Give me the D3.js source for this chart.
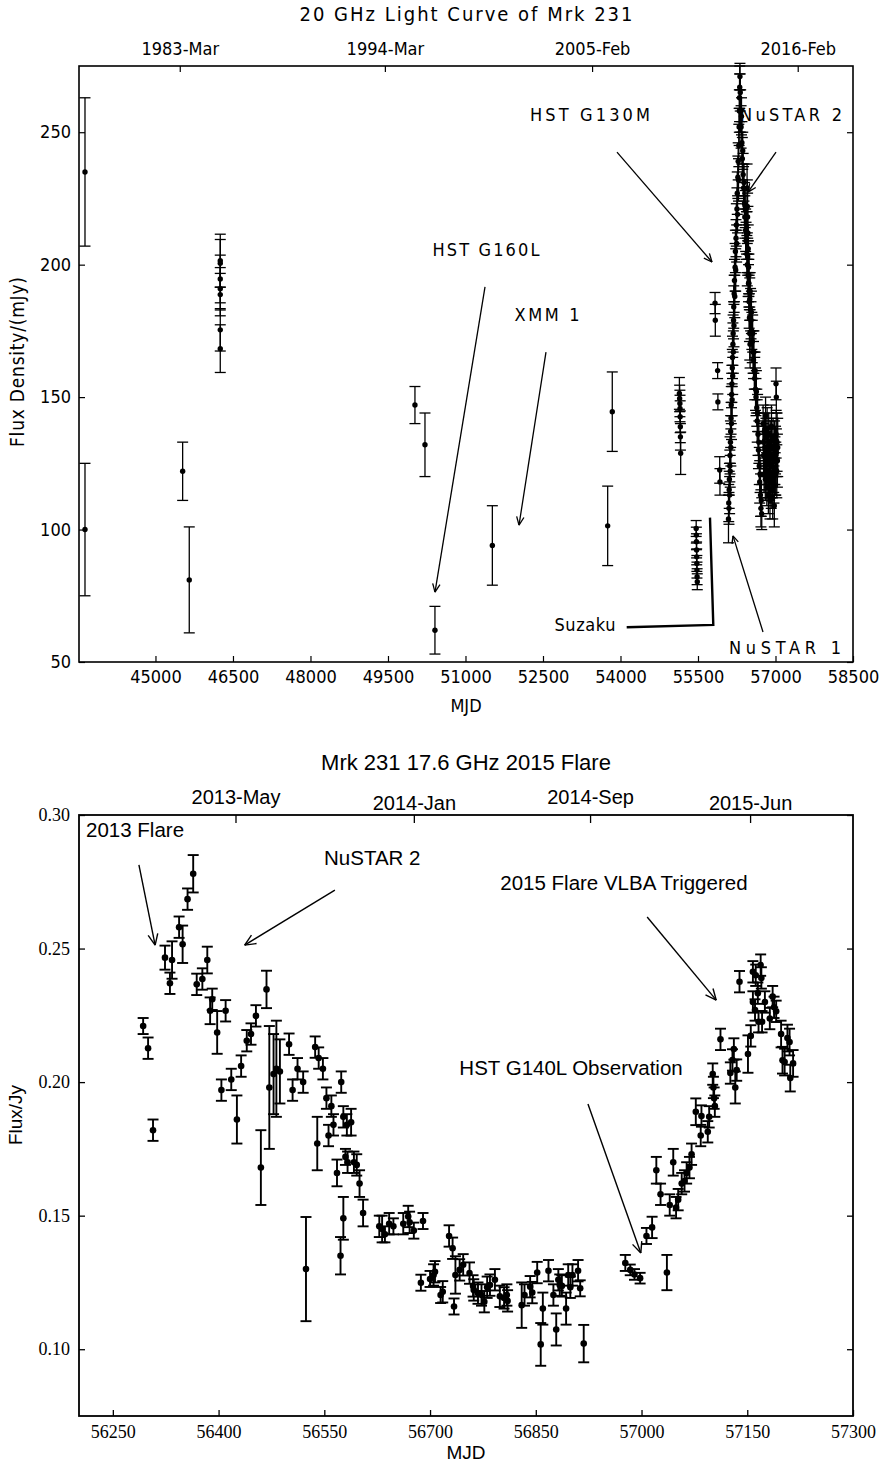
<!DOCTYPE html>
<html><head><meta charset="utf-8">
<script src="https://cdn.jsdelivr.net/npm/d3@7"></script>
<style>
body{margin:0;background:#fff;}
svg{display:block;}
</style></head>
<body><svg id="c" width="884" height="1465"></svg>
<script>
// ---------------- Panel 1 data (20 GHz) ----------------
const mjd1 = [43636,43636,45526,45654,
 46254,46254,46254,46254,46254,46254,46254,
 50022,50216,50409,51520,53752,53841,
 55140,55145,55150,55152,55155,55158,55160,55165,
 55465,55468,55470,55473,55475,55478,55480,55483,55486,
 55830,55835,55880,55885,55920,55925,
 // rising part of the 2013 flare
 56090,56095,56100,56104,56108,56112,56116,56120,56124,56128,56132,56136,56140,56144,56148,56152,56156,56160,56164,56168,56172,56176,56180,56184,56188,56192,56196,56200,56206,56212,56218,56224,56230,56236,56242,56248,56254,56260,56266,56272,56278,56284,56290,56296,56300,56304,56308,56312,
 // decay
 56318,56326,56334,56342,56350,56358,56366,56374,56382,56390,56398,56406,56414,56422,56430,56438,56446,56454,56462,56470,56478,56486,56494,56502,56510,56518,56526,56534,56542,56550,56558,56566,56574,56582,56590,56598,56606,56614,56622,56630,56638,56646,56654,56662,56670,56678,56686,56694,56702,56710,56718,56726,56734,
 56450,56455,56460,56466,56472,56478,56484,56490,56496,56502,56508,
 // late cluster
 56760,56766,56771,56779,56784,56791,56796,56803,56808,56815,56820,56827,56832,56838,56845,56850,56857,56862,56869,56874,56881,56886,56893,56898,56905,56910,56917,56922,56929,56934,56941,56946,56953,56958,56965,56970,56977,56982,56989,56994,57001,57006,57013,57018,57025,57031,57037,57043,57010,57016];
const flux1 = [235,100,122,81,
 201.5,200.5,194.6,190.9,188.7,175.4,168.3,
 147,132,62,94,101.4,144.5,
 151.4,149.5,147.6,145.7,142.6,138.8,135,128.8,
 100.4,97.9,95.4,92.3,89.7,87.2,84.7,82.2,80.3,
 185.5,179,160,148.2,122.5,118,
 104,110,108,115,119,113,124,128,122,133,137,131,142,147,140,151,155,149,161,165,158,170,174,167,179,184,177,189,194,188,199,205,198,210,215,208,221,227,219,233,239,232,245,252,258,263,267,271,
 265,258,252,256,246,240,243,234,229,231,223,218,221,213,209,212,204,200,203,196,193,196,190,187,190,183,179,182,175,171,174,167,164,167,160,157,160,153,150,152,146,141,144,136,130,133,124,118,121,113,108,111,106,
 229,222,218,212,206,199,193,186,180,174,170,
 140,133,128,121,137,131,124,119,143,135,129,122,116,138,131,127,120,113,136,129,125,118,111,133,128,120,115,139,131,124,119,112,135,127,122,117,109,134,126,121,130,123,136,129,122,133,126,131,155,150];
const err1 = [28,25,11,20,
 10,9,9,8,8,8,9,
 7,12,9,15,15,15,
 6,5,5,5,6,6,5,8,
 3,3,3,3,3,3,3,3,3,
 4,6,3,3,5,5,
 9,7,6,7,6,7,6,7,6,8,6,7,6,7,6,8,7,6,7,8,7,8,7,8,7,8,8,7,8,8,9,8,8,7,8,7,8,8,7,8,7,8,8,7,8,9,8,5,
 7,8,8,7,8,8,7,8,8,7,8,8,7,8,7,8,7,8,7,8,7,8,7,8,7,8,7,8,7,8,7,8,7,8,7,8,7,8,7,8,7,8,7,8,7,8,7,8,7,8,7,6,6,
 9,10,9,10,9,10,9,10,9,10,9,
 7,7,8,7,7,8,7,8,7,7,8,7,7,8,7,7,8,7,8,7,8,7,7,8,7,8,7,8,7,8,7,8,7,7,8,7,8,7,9,8,9,10,9,9,10,11,10,11,6,6];
const xTicks1 = [45000,46500,48000,49500,51000,52500,54000,55500,57000,58500];
const yTicks1 = [50,100,150,200,250];
const topTickMjd1 = [45470,49440,53450,57430];
const topTickLab1 = ["1983-Mar","1994-Mar","2005-Feb","2016-Feb"];

// ---------------- Panel 2 data (17.6 GHz) ----------------
const mjd2 = [56293,56300,56307,56324,56331,56334,56344,56349,56356,56364,56369,56377,56384,56388,56391,56398,56410,56440,56446,56453,56468,56500,56537,
 56404,56418,56426,56432,56460,56472,56478,56482,56487,56505,56512,56520,56524,56540,56542,56548,56553,56556,56560,56563,
 56568,56574,56577,56582,56573,56577,56580,56583,56588,56592,56596,56600,56605,56628,56632,56636,56642,56648,56662,56669,56671,56677,56690,56727,56732,
 56687,56700,56705,56707,56715,56718,56734,56736,56742,56747,56756,56761,56762,56768,56773,56777,56781,56785,56792,56799,56805,56809,56810,56830,56834,56842,56845,56852,56857,56860,56868,56875,56879,56882,56884,56887,56893,56896,56899,56902,56910,56913,56918,
 56977,56984,56990,56998,57007,57015,57036,57027,57021,57040,57049,57052,57057,57061,57045,57071,57068,57064,57077,57084,57085,57094,57096,57101,57102,57103,57104,57112,57126,57129,57131,57135,57133,57139,57151,57155,57158,57162,57169,57170,57158,57161,57165,57166,57171,57175,57182,57186,57188,57191,57198,57207,57210,57200,57203,57215,57211];
const flux2 = [.221,.2127,.182,.2466,.237,.2457,.258,.2516,.2685,.278,.2366,.2386,.2457,.2267,.231,.2186,.2267,.2155,.218,.2248,.2347,.2142,.2131,
 .197,.201,.186,.206,.168,.198,.203,.205,.204,.197,.205,.200,.130,.177,.209,.205,.194,.180,.191,.184,
 .166,.200,.187,.184,.135,.149,.172,.170,.185,.170,.169,.162,.151,.146,.145,.143,.147,.146,.147,.1497,.1475,.1444,.148,.1424,.1378,
 .1249,.1263,.1278,.129,.1203,.1215,.116,.1278,.1297,.1316,.1285,.1237,.1222,.121,.1203,.1178,.1232,.124,.126,.1198,.1192,.1203,.1181,.1165,.1203,.1234,.1212,.1287,.1018,.1152,.1294,.1203,.1074,.126,.124,.1237,.1152,.1278,.1232,.1278,.1294,.1228,.1021,
 .1323,.1297,.128,.1266,.1424,.1456,.1287,.158,.167,.154,.153,.156,.162,.163,.170,.173,.168,.166,.1889,.180,.1873,.1814,.187,.203,.198,.194,.191,.216,.2034,.2083,.2124,.2045,.198,.2376,.2105,.2173,.2413,.240,.2438,.239,.230,.227,.2333,.2226,.2226,.230,.2238,.232,.228,.2265,.218,.2165,.215,.2082,.2075,.207,.2015];
const err2 = [.003,.004,.004,.0045,.004,.007,.004,.007,.004,.007,.004,.004,.005,.005,.004,.008,.004,.004,.004,.004,.007,.004,.004,
 .004,.004,.009,.004,.014,.023,.015,.018,.012,.004,.004,.004,.0195,.010,.004,.004,.004,.004,.004,.004,
 .005,.004,.004,.004,.007,.008,.003,.004,.005,.004,.004,.005,.005,.004,.005,.003,.004,.003,.004,.004,.004,.003,.003,.004,.004,
 .003,.003,.004,.004,.003,.004,.003,.007,.004,.004,.004,.004,.004,.004,.004,.004,.004,.004,.004,.004,.004,.004,.004,.0085,.004,.004,.004,.004,.008,.006,.004,.004,.006,.004,.004,.004,.006,.004,.004,.004,.004,.003,.007,
 .003,.002,.002,.002,.003,.004,.0066,.004,.005,.004,.004,.004,.004,.004,.005,.004,.004,.004,.005,.004,.004,.004,.004,.004,.004,.004,.004,.004,.004,.004,.004,.004,.006,.004,.007,.004,.004,.004,.004,.004,.004,.004,.004,.004,.004,.004,.004,.004,.004,.004,.005,.005,.005,.005,.005,.005,.005];
const xTicks2 = [56250,56400,56550,56700,56850,57000,57150,57300];
const yTicks2 = [0.10,0.15,0.20,0.25,0.30];
const topTickMjd2 = [56424,56677,56927,57154];
const topTickLab2 = ["2013-May","2014-Jan","2014-Sep","2015-Jun"];

// ---------------- drawing ----------------
const svg = d3.select("#c");
const F1 = "'DejaVu Sans Condensed','Liberation Sans Narrow',sans-serif";
const FH = "'Liberation Sans',Arial,sans-serif";
const FT = "'Liberation Serif','Times New Roman',serif";

function arrow(g, xa, ya, xb, yb, head, sw){
  g.append("line").attr("x1",xa).attr("y1",ya).attr("x2",xb).attr("y2",yb)
    .attr("stroke","#000").attr("stroke-width",sw);
  const a = Math.atan2(yb-ya, xb-xa), da = 0.42;
  [a+Math.PI-da, a+Math.PI+da].forEach(t=>{
    g.append("line").attr("x1",xb).attr("y1",yb)
      .attr("x2",xb+head*Math.cos(t)).attr("y2",yb+head*Math.sin(t))
      .attr("stroke","#000").attr("stroke-width",sw);
  });
}

function errorbars(g, xs, ys, mj, fl, er, cap, r, sw){
  const idx = d3.range(mj.length);
  const eb = g.append("g").attr("stroke","#000").attr("stroke-width",sw);
  idx.forEach(i=>{
    const x = xs(mj[i]), y0 = ys(fl[i]-er[i]), y1 = ys(fl[i]+er[i]);
    eb.append("line").attr("x1",x).attr("x2",x).attr("y1",y0).attr("y2",y1);
    eb.append("line").attr("x1",x-cap).attr("x2",x+cap).attr("y1",y0).attr("y2",y0);
    eb.append("line").attr("x1",x-cap).attr("x2",x+cap).attr("y1",y1).attr("y2",y1);
  });
  g.append("g").selectAll("circle").data(idx).join("circle")
    .attr("cx",i=>xs(mj[i])).attr("cy",i=>ys(fl[i])).attr("r",r).attr("fill","#000");
}

// ===== Panel 1 =====
const L=79, R=853;
const x1 = d3.scaleLinear().domain([43520,58500]).range([L,R]);
const y1 = d3.scaleLinear().domain([50,275]).range([662,66]);
const p1 = svg.append("g");

p1.append("text").attr("x",(L+R)/2).attr("y",21).attr("text-anchor","middle")
  .attr("font-family",F1).attr("font-size",20).attr("textLength",333).attr("lengthAdjust","spacing")
  .text("20 GHz Light Curve of Mrk 231");

const ax1b = p1.append("g").attr("transform","translate(0,662)")
  .call(d3.axisBottom(x1).tickValues(xTicks1).tickFormat(d3.format("d")).tickSizeInner(-6).tickSizeOuter(0).tickPadding(8));
const ax1l = p1.append("g").attr("transform",`translate(${L},0)`)
  .call(d3.axisLeft(y1).tickValues(yTicks1).tickFormat(d3.format("d")).tickSizeInner(-6).tickSizeOuter(0).tickPadding(8));
const ax1r = p1.append("g").attr("transform",`translate(${R},0)`)
  .call(d3.axisRight(y1).tickValues(yTicks1).tickFormat("").tickSizeInner(-6).tickSizeOuter(0));
const ax1t = p1.append("g").attr("transform","translate(0,66)")
  .call(d3.axisTop(x1).tickValues(topTickMjd1).tickFormat((d,i)=>topTickLab1[i]).tickSizeInner(-6).tickSizeOuter(0).tickPadding(11));
[ax1b,ax1l,ax1r,ax1t].forEach(a=>{
  a.select(".domain").remove();
  a.selectAll("line").attr("stroke","#000").attr("stroke-width",1.2);
  a.selectAll("text").attr("font-family",F1).attr("font-size",18).attr("fill","#000");
});

p1.append("rect").attr("x",L).attr("y",66).attr("width",R-L).attr("height",662-66)
  .attr("fill","none").attr("stroke","#000").attr("stroke-width",1.6);

p1.append("text").attr("x",(L+R)/2).attr("y",712).attr("text-anchor","middle")
  .attr("font-family",F1).attr("font-size",18).text("MJD");
p1.append("text").attr("transform","translate(24,362) rotate(-90)").attr("text-anchor","middle")
  .attr("font-family",F1).attr("font-size",19).attr("textLength",170).attr("lengthAdjust","spacing")
  .text("Flux Density/(mJy)");

errorbars(p1, x1, y1, mjd1, flux1, err1, 5.5, 2.7, 1.3);

// annotations panel 1 (in data coordinates)
const ann1 = p1.append("g").attr("font-family",F1).attr("font-size",18);
function t1(txt, m, f, len){ ann1.append("text").attr("x",x1(m)).attr("y",y1(f)).attr("text-anchor","middle")
  .attr("textLength",len).attr("lengthAdjust","spacing").text(txt); }
t1("HST G130M", 53410, 254.2, 120);
t1("NuSTAR 2", 57300, 254.2, 102);
t1("HST G160L", 51397, 203.3, 107);
t1("XMM 1", 52577, 178.7, 65);
t1("Suzaku", 53313, 61.7, 61);
t1("NuSTAR 1", 57184, 53.0, 112);
arrow(p1, x1(53932), y1(242.5), x1(55771), y1(201), 9, 1.3);
arrow(p1, x1(57010), y1(242.5), x1(56468), y1(227.4), 9, 1.3);
arrow(p1, x1(51378), y1(191.6), x1(50410), y1(76.4), 9, 1.3);
arrow(p1, x1(52558), y1(167), x1(52036), y1(101.7), 9, 1.3);
arrow(p1, x1(56758), y1(61.3), x1(56177), y1(97.6), 8, 1.3);
p1.append("path").attr("d", d3.line()([[x1(54120),y1(63.1)],[x1(55796),y1(64.0)],[x1(55732),y1(104.5)]]))
  .attr("fill","none").attr("stroke","#000").attr("stroke-width",2.4);

// ===== Panel 2 =====
const T2=815, B2=1416;
const x2 = d3.scaleLinear().domain([56202,57300]).range([L,R]);
const y2 = d3.scaleLinear().domain([0.075,0.30]).range([B2,T2]);
const p2 = svg.append("g");

p2.append("text").attr("x",(L+R)/2).attr("y",770).attr("text-anchor","middle")
  .attr("font-family",FH).attr("font-size",22).text("Mrk 231 17.6 GHz 2015 Flare");

const ax2b = p2.append("g").attr("transform",`translate(0,${B2})`)
  .call(d3.axisBottom(x2).tickValues(xTicks2).tickFormat(d3.format("d")).tickSizeInner(-6).tickSizeOuter(0).tickPadding(9));
const ax2l = p2.append("g").attr("transform",`translate(${L},0)`)
  .call(d3.axisLeft(y2).tickValues(yTicks2).tickFormat(d3.format(".2f")).tickSizeInner(-6).tickSizeOuter(0).tickPadding(9));
const ax2r = p2.append("g").attr("transform",`translate(${R},0)`)
  .call(d3.axisRight(y2).tickValues(yTicks2).tickFormat("").tickSizeInner(-6).tickSizeOuter(0));
const ax2t = p2.append("g").attr("transform",`translate(0,${T2})`)
  .call(d3.axisTop(x2).tickValues(topTickMjd2).tickFormat((d,i)=>topTickLab2[i]).tickSizeInner(-8).tickSizeOuter(0).tickPadding(8));
[ax2b,ax2l,ax2r,ax2t].forEach(a=>{
  a.select(".domain").remove();
  a.selectAll("line").attr("stroke","#000").attr("stroke-width",1.3);
  a.selectAll("text").attr("fill","#000");
});
ax2b.selectAll("text").attr("font-family",FT).attr("font-size",18);
ax2l.selectAll("text").attr("font-family",FT).attr("font-size",18);
ax2t.selectAll("text").attr("font-family",FH).attr("font-size",20).attr("dy",(d,i)=>i%2? "0.15em":"-0.15em");

p2.append("rect").attr("x",L).attr("y",T2).attr("width",R-L).attr("height",B2-T2)
  .attr("fill","none").attr("stroke","#000").attr("stroke-width",1.8);

p2.append("text").attr("x",(L+R)/2).attr("y",1459).attr("text-anchor","middle")
  .attr("font-family",FH).attr("font-size",19).text("MJD");
p2.append("text").attr("transform","translate(22,1115) rotate(-90)").attr("text-anchor","middle")
  .attr("font-family",FH).attr("font-size",19).text("Flux/Jy");

errorbars(p2, x2, y2, mjd2, flux2, err2, 5.5, 3.3, 1.9);

const ann2 = p2.append("g").attr("font-family",FH).attr("font-size",20.5);
function t2(txt, m, f, anchor){ ann2.append("text").attr("x",x2(m)).attr("y",y2(f)).attr("text-anchor",anchor).text(txt); }
t2("2013 Flare", 56212, 0.2918, "start");
t2("NuSTAR 2", 56618, 0.2811, "middle");
t2("2015 Flare VLBA Triggered", 56975, 0.2721, "middle");
t2("HST G140L Observation", 56900, 0.2025, "middle");
arrow(p2, x2(56287), y2(0.2813), x2(56310), y2(0.2513), 12, 1.4);
arrow(p2, x2(56565), y2(0.2719), x2(56437), y2(0.2513), 12, 1.4);
arrow(p2, x2(57008), y2(0.2618), x2(57106), y2(0.2307), 12, 1.4);
arrow(p2, x2(56924), y2(0.1918), x2(56999), y2(0.1360), 12, 1.4);
</script></body></html>
